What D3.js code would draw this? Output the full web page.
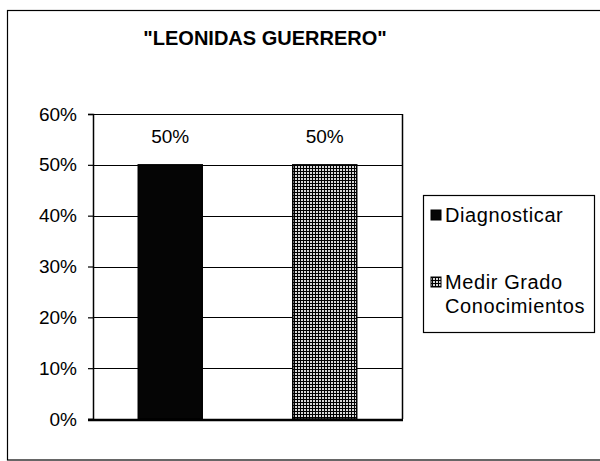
<!DOCTYPE html>
<html>
<head>
<meta charset="utf-8">
<script src="https://cdn.jsdelivr.net/npm/d3@7"></script>
<style>
  body { margin: 0; background: #fff; }
  text { font-family: Arial, "Liberation Sans", sans-serif; fill: #000; }
</style>
</head>
<body>
<div id="chart"></div>
<script>
// chart data
var title = '"LEONIDAS GUERRERO"';
var series = ["Diagnosticar", "Medir Grado Conocimientos"];
var legendLines = [["Diagnosticar"], ["Medir Grado", "Conocimientos"]];
var values = [0.5, 0.5];
var yTicks = [0, 0.1, 0.2, 0.3, 0.4, 0.5, 0.6];

var width = 600, height = 461;
var plot = { left: 93, right: 402, top: 114, bottom: 419 };

var svg = d3.select("#chart").append("svg")
    .attr("width", width)
    .attr("height", height);

// hatch pattern for the second series
var defs = svg.append("defs");
var pat = defs.append("pattern")
    .attr("id", "grid")
    .attr("patternUnits", "userSpaceOnUse")
    .attr("width", 3)
    .attr("height", 3);
pat.append("rect").attr("width", 3).attr("height", 3).attr("fill", "#d8d8d8");
pat.append("rect").attr("width", 3).attr("height", 1).attr("fill", "#000");
pat.append("rect").attr("width", 1).attr("height", 3).attr("fill", "#000");

// outer frame
svg.append("rect")
    .attr("x", 7.5).attr("y", 10.5)
    .attr("width", 600).attr("height", 449.5)
    .attr("fill", "none")
    .attr("stroke", "#000")
    .attr("stroke-width", 1.2);

svg.append("text")
    .attr("x", 265).attr("y", 45)
    .attr("text-anchor", "middle")
    .attr("font-size", 20)
    .attr("font-weight", "bold")
    .text(title);

var x = d3.scaleBand()
    .domain(series)
    .range([plot.left, plot.right])
    .paddingInner(0.586)
    .paddingOuter(0.293);

var y = d3.scaleLinear()
    .domain([0, 0.6])
    .range([plot.bottom, plot.top]);

// gridlines
svg.append("g")
  .selectAll("line")
  .data(yTicks.slice(1))
  .enter().append("line")
    .attr("x1", plot.left).attr("x2", plot.right)
    .attr("y1", function(d){ return Math.round(y(d)) + 0.5; })
    .attr("y2", function(d){ return Math.round(y(d)) + 0.5; })
    .attr("stroke", "#000")
    .attr("stroke-width", 1.2);

// y axis
var yAxis = svg.append("g")
    .attr("transform", "translate(" + plot.left + ",0)")
    .call(d3.axisLeft(y)
      .tickValues(yTicks)
      .tickSize(5)
      .tickPadding(11)
      .tickFormat(d3.format(".0%")));
yAxis.select(".domain").attr("stroke", "#000").attr("stroke-width", 1.5);
yAxis.selectAll(".tick line").attr("stroke", "#000").attr("stroke-width", 1.2);
yAxis.selectAll(".tick text")
    .attr("font-size", 19)
    .attr("font-family", "Arial, 'Liberation Sans', sans-serif")
    .attr("fill", "#000");

// right edge of plot
svg.append("line")
    .attr("x1", plot.right + 0.5).attr("x2", plot.right + 0.5)
    .attr("y1", plot.top).attr("y2", plot.bottom)
    .attr("stroke", "#000").attr("stroke-width", 1.5);

// bars
svg.append("g")
  .selectAll("rect")
  .data(values)
  .enter().append("rect")
    .attr("x", function(d, i){ return x(series[i]); })
    .attr("y", function(d){ return y(d); })
    .attr("width", x.bandwidth())
    .attr("height", function(d){ return y(0) - y(d); })
    .attr("fill", function(d, i){ return i === 0 ? "#050505" : "url(#grid)"; })
    .attr("stroke", "#000")
    .attr("stroke-width", 1.5);

// bottom axis line (thicker)
svg.append("line")
    .attr("x1", plot.left - 5).attr("x2", plot.right + 1)
    .attr("y1", plot.bottom + 1).attr("y2", plot.bottom + 1)
    .attr("stroke", "#000").attr("stroke-width", 2.5);

// value labels
svg.append("g")
  .selectAll("text")
  .data(values)
  .enter().append("text")
    .attr("x", function(d, i){ return x(series[i]) + x.bandwidth() / 2; })
    .attr("y", function(d){ return y(d) - 22; })
    .attr("text-anchor", "middle")
    .attr("font-size", 19)
    .text(function(d){ return d3.format(".0%")(d); });

// legend
var legend = svg.append("g");
legend.append("rect")
    .attr("x", 423.5).attr("y", 195.5)
    .attr("width", 171).attr("height", 137)
    .attr("fill", "#fff")
    .attr("stroke", "#000")
    .attr("stroke-width", 1.2);

var itemY = [222, 289];
var items = legend.selectAll("g.item")
  .data(series)
  .enter().append("g")
    .attr("class", "item")
    .attr("transform", function(d, i){ return "translate(0," + itemY[i] + ")"; });

items.append("rect")
    .attr("x", 431).attr("y", -12)
    .attr("width", 10).attr("height", 10)
    .attr("fill", function(d, i){ return i === 0 ? "#050505" : "url(#grid)"; })
    .attr("stroke", "#000");

items.append("text")
    .attr("font-size", 20)
    .attr("letter-spacing", 0.6)
    .each(function(d, i){
      var t = d3.select(this);
      legendLines[i].forEach(function(line, j){
        t.append("tspan")
          .attr("x", 445)
          .attr("dy", j === 0 ? 0 : 24)
          .text(line);
      });
    });
</script>
</body>
</html>
